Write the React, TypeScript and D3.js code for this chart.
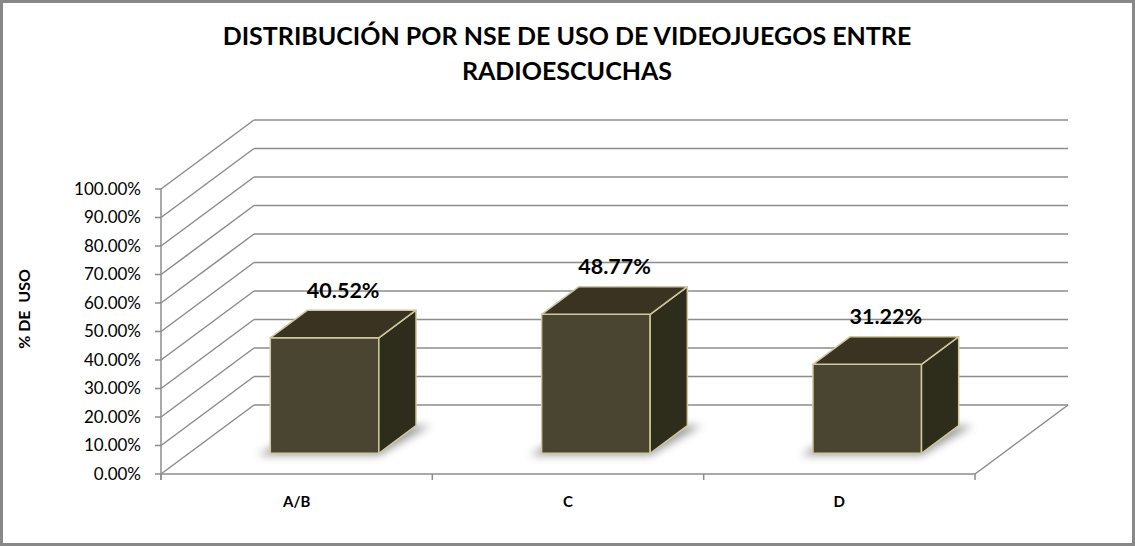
import React from "react";
import * as d3 from "d3";

const categories = ["A/B", "C", "D"];
const values = [0.4052, 0.4877, 0.3122];
const valueLabels = ["40.52%", "48.77%", "31.22%"];
const yTicks = [0, 0.1, 0.2, 0.3, 0.4, 0.5, 0.6, 0.7, 0.8, 0.9, 1.0];
const titleLines = ["DISTRIBUCIÓN POR NSE DE USO DE VIDEOJUEGOS ENTRE", "RADIOESCUCHAS"];
const yAxisTitle = "% DE  USO";

const W = 1135;
const H = 546;
const FONT = "Lato, 'Open Sans', sans-serif";

// front plane of the 3d box
const x = d3.scaleBand<string>().domain(categories).range([161, 975]).paddingInner(0.6).paddingOuter(0.3);
const y = d3.scaleLinear().domain([0, 1]).range([474, 189]);
// depth: 0 = front, 1 = back wall
const dx = d3.scaleLinear().domain([0, 1]).range([0, 93]);
const dy = d3.scaleLinear().domain([0, 1]).range([0, -69]);

const gridColor = "#8c8c8c";
const frontFill = "#4a4530";
const topFill = "#3a3322";
const sideFill = "#2e2d1c";
const edge = "#cfc79f";

const pt = (px: number, py: number, t: number) => `${px + dx(t)},${py + dy(t)}`;

const App: React.FC = () => {
  const x0 = x.range()[0];
  const x1 = x.range()[1];
  const bw = x.bandwidth();
  const step = x.step();
  const zF = 0.3;
  const zB = 0.7;

  return (
    <svg width={W} height={H} style={{ position: "absolute", left: 0, top: 0, background: "#fff" }}>
      <defs>
        <filter id="shadow" x="-30%" y="-30%" width="160%" height="160%">
          <feGaussianBlur stdDeviation="4" />
        </filter>
      </defs>
      <rect x={1.5} y={1.5} width={W - 3} height={H - 3} fill="#fff" stroke="#888" strokeWidth={3} />

      {titleLines.map((t, i) => (
        <text key={t} x={567} y={45 + i * 35} textAnchor="middle" fontFamily={FONT} fontWeight="bold" fontSize={25} fill="#000">
          {t}
        </text>
      ))}

      {/* back wall gridlines and side wall */}
      <g stroke={gridColor} strokeWidth={1.5} fill="none">
        {yTicks.map((v) => (
          <g key={v}>
            <line x1={x0 + dx(1)} x2={x1 + dx(1)} y1={y(v) + dy(1)} y2={y(v) + dy(1)} />
            <line x1={x0} y1={y(v)} x2={x0 + dx(1)} y2={y(v) + dy(1)} />
            <line x1={x0 - 6} x2={x0} y1={y(v)} y2={y(v)} />
          </g>
        ))}
        <line x1={x0} x2={x0} y1={y(1)} y2={y(0) + 6} />
        <line x1={x0} x2={x1} y1={y(0)} y2={y(0)} />
        <line x1={x1} y1={y(0)} x2={x1 + dx(1)} y2={y(0) + dy(1)} />
        {d3.range(categories.length + 1).map((i) => (
          <line key={i} x1={x0 + i * step} x2={x0 + i * step} y1={y(0)} y2={y(0) + 6} />
        ))}
      </g>

      {/* tick labels */}
      {yTicks.map((v) => (
        <text key={v} x={141} y={y(v)} dy="0.35em" textAnchor="end" fontFamily={FONT} fontSize={17} fill="#000">
          {d3.format(".2%")(v)}
        </text>
      ))}
      <text transform={`translate(24,309) rotate(-90)`} textAnchor="middle" dy="0.35em" fontFamily={FONT} fontWeight="bold" fontSize={16} fill="#000" style={{ whiteSpace: "pre" }}>
        {yAxisTitle}
      </text>
      {categories.map((c) => (
        <text key={c} x={(x(c) ?? 0) + bw / 2} y={507} textAnchor="middle" fontFamily={FONT} fontWeight="bold" fontSize={15} fill="#000">
          {c}
        </text>
      ))}

      {/* bars */}
      {categories.map((c, i) => {
        const bx = x(c) ?? 0;
        const base = y(0);
        const top = y(values[i]);
        const L = bx;
        const R = bx + bw;
        const front = [pt(L, base, zF), pt(R, base, zF), pt(R, top, zF), pt(L, top, zF)].join(" ");
        const topFace = [pt(L, top, zF), pt(R, top, zF), pt(R, top, zB), pt(L, top, zB)].join(" ");
        const side = [pt(R, base, zF), pt(R, base, zB), pt(R, top, zB), pt(R, top, zF)].join(" ");
        const shadow = [pt(L - 12, base + 2, zF), pt(R, base + 2, zF), pt(R + 14, base, zB), pt(L, base, zB)].join(" ");
        const lx = bx + bw / 2 + dx(0.5);
        const ly = top + dy(zB) - 20;
        return (
          <g key={c}>
            <polygon points={shadow} fill="#8a8a8a" opacity={0.85} filter="url(#shadow)" />
            <polygon points={front} fill={frontFill} stroke={edge} strokeWidth={1.5} strokeLinejoin="round" />
            <polygon points={side} fill={sideFill} stroke={edge} strokeWidth={1.5} strokeLinejoin="round" />
            <polygon points={topFace} fill={topFill} stroke={edge} strokeWidth={1.5} strokeLinejoin="round" />
            <text x={lx} y={ly} dy="0.35em" textAnchor="middle" fontFamily={FONT} fontWeight="bold" fontSize={21.5} fill="#000">
              {valueLabels[i]}
            </text>
          </g>
        );
      })}
    </svg>
  );
};

export default App;
